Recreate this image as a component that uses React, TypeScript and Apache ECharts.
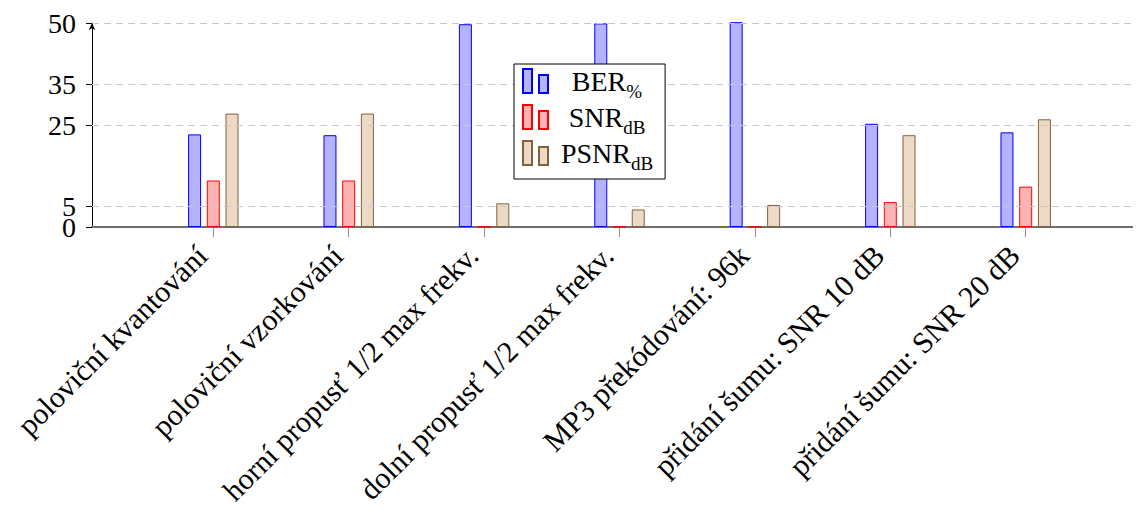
import React, { useEffect, useRef } from "react";
import * as echarts from "echarts";

const categories = [
  "poloviční kvantování",
  "poloviční vzorkování",
  "horní propusť 1/2 max frekv.",
  "dolní propusť 1/2 max frekv.",
  "MP3 překódování: 96k",
  "přidání šumu: SNR 10 dB",
  "přidání šumu: SNR 20 dB",
];
const berValues = [22.7, 22.5, 49.7, 49.9, 50.2, 25.3, 23.2];
const snrValues = [11.4, 11.4, 0, 0, 0, 6.1, 9.9];
const psnrValues = [27.8, 27.8, 5.8, 4.3, 5.4, 22.5, 26.4];
const yTicksMain = [0, 25, 35, 50];
const yTicksExtra = [5];
const gridValues = [5, 25, 35, 50];

const FONT = "Liberation Serif";
const ICON = "path://M0,0h9v24h-9zM16,6h9v18h-9z";

export default function App() {
  const ref = useRef<HTMLDivElement>(null);
  useEffect(() => {
    if (!ref.current) return;
    const chart = echarts.init(ref.current, null, { renderer: "svg" });
    const top = 23;
    const bottom = 289;
    const barCommon = {
      type: "bar",
      xAxisIndex: 0,
      yAxisIndex: 0,
      barWidth: 13,
      barGap: "44%",
      clip: false,
      z: 3,
    };
    const legendNames: Record<string, string> = {
      BER: "{m|BER}{s|%}",
      SNR: "{m|SNR}{s|dB}",
      PSNR: "{m|PSNR}{s|dB}",
    };
    const yLabel = {
      margin: 16,
      fontFamily: FONT,
      fontSize: 28,
      color: "#000",
      showMinLabel: true,
      showMaxLabel: true,
      hideOverlap: false,
    };
    chart.setOption({
      animation: false,
      grid: [
        { left: 145.6, right: 47.6, top, bottom, containLabel: false, outerBoundsMode: "none" },
        { left: 92, right: 1, top, bottom, containLabel: false, outerBoundsMode: "none" },
      ],
      xAxis: [
        {
          type: "category",
          gridIndex: 0,
          data: categories,
          axisLine: { show: false },
          axisTick: {
            show: true,
            alignWithLabel: true,
            length: 10,
            lineStyle: { color: "#8c8c8c", width: 1 },
          },
          axisLabel: {
            interval: 0,
            rotate: 45,
            margin: 12,
            padding: [0, 16, 23, 0],
            fontFamily: FONT,
            fontSize: 30,
            color: "#000",
          },
        },
        {
          type: "value",
          gridIndex: 1,
          min: 0,
          max: 1,
          axisLine: {
            show: true,
            symbol: ["none", "arrow"],
            symbolSize: [5, 7],
            lineStyle: { color: "#6e6e6e", width: 2 },
          },
          axisTick: { show: false },
          axisLabel: { show: false },
          splitLine: { show: false },
        },
      ],
      yAxis: [
        {
          type: "value",
          gridIndex: 0,
          min: 0,
          max: 50,
          show: false,
        },
        {
          type: "value",
          gridIndex: 1,
          min: 0,
          max: 50,
          position: "left",
          axisLine: {
            show: true,
            symbol: ["none", "arrow"],
            symbolSize: [5, 7],
            lineStyle: { color: "#000", width: 1 },
          },
          axisTick: {
            show: true,
            customValues: yTicksMain,
            length: 6,
            lineStyle: { color: "#000" },
          },
          axisLabel: { ...yLabel, customValues: yTicksMain },
          splitLine: { show: false },
        },
        {
          type: "value",
          gridIndex: 1,
          min: 0,
          max: 50,
          position: "left",
          offset: 0,
          axisLine: { show: false },
          axisTick: {
            show: true,
            customValues: yTicksExtra,
            length: 6,
            lineStyle: { color: "#000" },
          },
          axisLabel: { ...yLabel, customValues: yTicksExtra },
          splitLine: { show: false },
        },
      ],
      legend: {
        orient: "vertical",
        left: 514,
        top: 64,
        padding: [3, 12, 6, 8],
        itemWidth: 25,
        itemHeight: 24,
        itemGap: 2,
        icon: ICON,
        borderColor: "#000",
        borderWidth: 1,
        borderRadius: 0,
        backgroundColor: "#fff",
        z: 10,
        formatter: (name: string) => legendNames[name] ?? name,
        textStyle: {
          fontFamily: FONT,
          fontSize: 28,
          color: "#000",
          width: 108,
          rich: {
            m: { fontFamily: FONT, fontSize: 28, color: "#000", align: "center", lineHeight: 28 },
            s: {
              fontFamily: FONT,
              fontSize: 19,
              color: "#000",
              align: "center",
              verticalAlign: "bottom",
              lineHeight: 19,
              padding: [0, 0, -6, 0],
            },
          },
        },
        data: ["BER", "SNR", "PSNR"],
      },
      series: [
        {
          type: "line",
          xAxisIndex: 1,
          yAxisIndex: 1,
          data: [],
          silent: true,
          z: 1,
          markLine: {
            silent: true,
            symbol: ["none", "none"],
            label: { show: false },
            lineStyle: { color: "#c8c8c8", type: [7, 5], width: 1 },
            data: gridValues.map((v) => ({ yAxis: v })),
          },
        },
        {
          ...barCommon,
          name: "BER",
          data: berValues,
          itemStyle: { color: "#b3b3ff", borderColor: "#0000ff", borderWidth: 1 },
        },
        {
          ...barCommon,
          name: "SNR",
          data: snrValues,
          itemStyle: { color: "#ffb3b3", borderColor: "#ff0000", borderWidth: 1 },
        },
        {
          ...barCommon,
          name: "PSNR",
          data: psnrValues,
          itemStyle: { color: "#ecd9c6", borderColor: "#86603a", borderWidth: 1 },
        },
      ],
    });
    return () => chart.dispose();
  }, []);
  return <div ref={ref} style={{ width: 1141, height: 516, margin: -8 }} />;
}
